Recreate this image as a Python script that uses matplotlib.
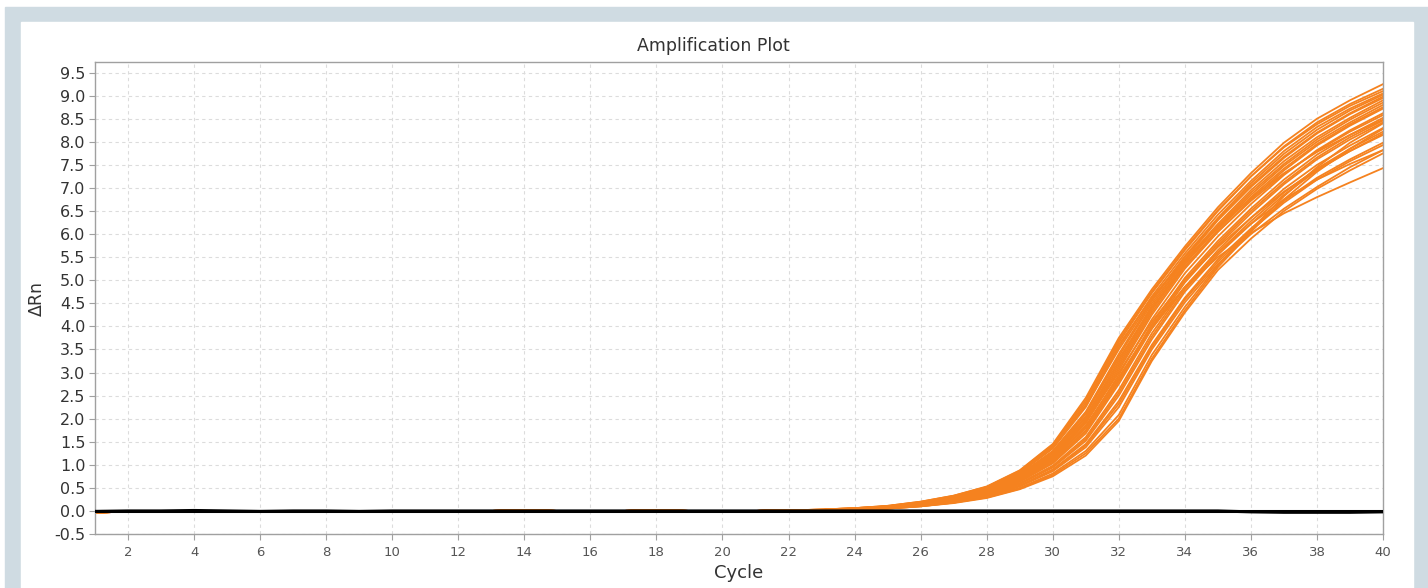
import matplotlib
matplotlib.use("Agg")
import matplotlib.pyplot as plt
from matplotlib.patches import Rectangle
import numpy as np

# ciclos y datos
cycles = list(range(1, 41))

# linea base comun de las curvas naranjas (ciclos 1-22)
base_orange = [-0.03, -0.02, -0.01, 0.0, -0.01, 0.0, 0.0, -0.01, 0.0, 0.0, 0.0,
               0.0, 0.0, 0.01, 0.0, 0.0, 0.0, 0.01, 0.0, 0.0, 0.0, 0.01]

# parte creciente de cada curva (ciclos 23-40)
tails = [
    [0.03, 0.06, 0.11, 0.20, 0.33, 0.53, 0.88, 1.45, 2.45, 3.75, 4.80, 5.73, 6.58, 7.32, 7.98, 8.50, 8.90, 9.25],
    [0.03, 0.06, 0.10, 0.19, 0.32, 0.51, 0.85, 1.40, 2.35, 3.65, 4.72, 5.65, 6.50, 7.25, 7.90, 8.42, 8.82, 9.15],
    [0.02, 0.05, 0.10, 0.18, 0.30, 0.49, 0.82, 1.35, 2.25, 3.55, 4.65, 5.58, 6.42, 7.15, 7.80, 8.32, 8.72, 9.05],
    [0.02, 0.05, 0.09, 0.17, 0.29, 0.47, 0.79, 1.30, 2.15, 3.40, 4.55, 5.50, 6.32, 7.05, 7.68, 8.20, 8.62, 8.98],
    [0.02, 0.05, 0.09, 0.16, 0.28, 0.45, 0.76, 1.25, 2.05, 3.25, 4.45, 5.42, 6.22, 6.95, 7.58, 8.10, 8.52, 8.90],
    [0.02, 0.04, 0.08, 0.16, 0.27, 0.44, 0.74, 1.20, 1.98, 3.15, 4.35, 5.35, 6.15, 6.85, 7.48, 8.00, 8.42, 8.80],
    [0.02, 0.04, 0.08, 0.15, 0.26, 0.42, 0.71, 1.15, 1.90, 3.05, 4.25, 5.25, 6.05, 6.75, 7.38, 7.92, 8.35, 8.72],
    [0.02, 0.04, 0.08, 0.15, 0.25, 0.41, 0.69, 1.12, 1.82, 2.95, 4.15, 5.15, 5.95, 6.65, 7.28, 7.82, 8.25, 8.62],
    [0.01, 0.04, 0.07, 0.14, 0.24, 0.39, 0.66, 1.08, 1.75, 2.85, 4.05, 5.05, 5.85, 6.55, 7.18, 7.72, 8.15, 8.52],
    [0.01, 0.04, 0.07, 0.13, 0.23, 0.37, 0.63, 1.03, 1.68, 2.75, 3.95, 4.95, 5.75, 6.45, 7.08, 7.62, 8.05, 8.42],
    [0.01, 0.03, 0.07, 0.13, 0.22, 0.36, 0.60, 0.98, 1.60, 2.62, 3.85, 4.85, 5.65, 6.35, 6.98, 7.50, 7.92, 8.30],
    [0.01, 0.03, 0.06, 0.12, 0.21, 0.34, 0.58, 0.94, 1.52, 2.50, 3.72, 4.75, 5.55, 6.22, 6.85, 7.38, 7.80, 8.18],
    [0.01, 0.03, 0.06, 0.11, 0.20, 0.33, 0.55, 0.90, 1.45, 2.38, 3.60, 4.62, 5.45, 6.12, 6.72, 7.22, 7.62, 7.98],
    [0.01, 0.03, 0.06, 0.11, 0.19, 0.31, 0.53, 0.86, 1.38, 2.25, 3.50, 4.52, 5.35, 6.00, 6.55, 7.02, 7.45, 7.82],
    [0.02, 0.04, 0.08, 0.15, 0.26, 0.42, 0.70, 1.12, 1.85, 2.90, 4.00, 4.85, 5.50, 6.02, 6.45, 6.80, 7.12, 7.43],
    [0.02, 0.04, 0.08, 0.15, 0.25, 0.41, 0.68, 1.10, 1.80, 2.85, 3.95, 4.85, 5.60, 6.22, 6.75, 7.18, 7.52, 7.82],
    [0.01, 0.03, 0.05, 0.10, 0.18, 0.29, 0.48, 0.78, 1.25, 2.00, 3.30, 4.35, 5.28, 6.05, 6.75, 7.35, 7.85, 8.28],
    [0.01, 0.03, 0.05, 0.10, 0.17, 0.28, 0.47, 0.75, 1.20, 1.95, 3.25, 4.30, 5.22, 5.90, 6.50, 6.98, 7.38, 7.75],
    [0.03, 0.06, 0.10, 0.19, 0.31, 0.50, 0.84, 1.38, 2.30, 3.60, 4.62, 5.45, 6.15, 6.78, 7.32, 7.78, 8.15, 8.48],
    [0.02, 0.05, 0.09, 0.17, 0.28, 0.46, 0.77, 1.27, 2.10, 3.35, 4.50, 5.45, 6.30, 7.02, 7.65, 8.18, 8.60, 8.95],
    [0.02, 0.05, 0.10, 0.18, 0.31, 0.50, 0.83, 1.37, 2.28, 3.50, 4.58, 5.52, 6.35, 7.10, 7.74, 8.26, 8.68, 9.02],
    [0.02, 0.05, 0.09, 0.17, 0.29, 0.47, 0.78, 1.28, 2.12, 3.30, 4.40, 5.30, 6.05, 6.72, 7.30, 7.80, 8.22, 8.58],
    [0.02, 0.04, 0.08, 0.16, 0.27, 0.43, 0.72, 1.18, 1.94, 3.10, 4.30, 5.30, 6.10, 6.80, 7.42, 7.95, 8.38, 8.75],
    [0.01, 0.04, 0.07, 0.14, 0.24, 0.38, 0.64, 1.05, 1.72, 2.80, 4.00, 5.00, 5.80, 6.50, 7.12, 7.66, 8.10, 8.46],
    [0.01, 0.03, 0.06, 0.12, 0.21, 0.35, 0.59, 0.96, 1.56, 2.56, 3.78, 4.80, 5.60, 6.28, 6.90, 7.42, 7.85, 8.22],
    [0.01, 0.03, 0.06, 0.12, 0.20, 0.32, 0.54, 0.88, 1.42, 2.32, 3.55, 4.58, 5.40, 6.08, 6.68, 7.18, 7.58, 7.93],
    [0.01, 0.03, 0.05, 0.10, 0.18, 0.30, 0.50, 0.81, 1.30, 2.08, 3.38, 4.42, 5.32, 6.10, 6.82, 7.45, 7.98, 8.40],
    [0.03, 0.06, 0.11, 0.20, 0.33, 0.52, 0.87, 1.43, 2.40, 3.70, 4.75, 5.68, 6.52, 7.25, 7.88, 8.38, 8.78, 9.10],
    [0.02, 0.05, 0.09, 0.16, 0.28, 0.45, 0.75, 1.23, 2.02, 3.20, 4.40, 5.38, 6.18, 6.90, 7.52, 8.05, 8.48, 8.85],
    [0.02, 0.04, 0.08, 0.15, 0.26, 0.43, 0.72, 1.17, 1.92, 3.00, 4.10, 5.00, 5.72, 6.35, 6.92, 7.40, 7.80, 8.15],
]

# controles negativos (lineas negras)
black_a = [0.0, 0.0, 0.0, 0.0, 0.0, 0.0, 0.0, 0.0, 0.0, 0.0, 0.0, 0.0, 0.0, 0.0,
           0.0, 0.0, 0.0, 0.0, 0.0, 0.0, 0.0, 0.0, 0.0, 0.0, 0.0, 0.0, 0.0, 0.0,
           0.0, 0.0, 0.0, 0.0, 0.0, 0.0, 0.0, 0.0, 0.0, 0.0, 0.0, 0.0]
black_b = [-0.01, 0.0, 0.0, 0.01, 0.0, -0.01, 0.0, 0.0, -0.01, 0.0, 0.0, 0.0,
           0.0, 0.0, 0.0, 0.0, 0.0, 0.0, 0.0, 0.0, 0.0, 0.0, 0.0, 0.0, 0.0, 0.0,
           0.0, 0.0, 0.0, 0.0, 0.0, 0.0, 0.0, 0.0, 0.0, -0.02, -0.03, -0.03,
           -0.03, -0.02]

yticks = [-0.5, 0.0, 0.5, 1.0, 1.5, 2.0, 2.5, 3.0, 3.5, 4.0, 4.5, 5.0, 5.5,
          6.0, 6.5, 7.0, 7.5, 8.0, 8.5, 9.0, 9.5]
xticks = list(range(2, 41, 2))

plt.rcParams['font.family'] = ['DejaVu Sans']

fig = plt.figure(figsize=(14.28, 5.88), dpi=100, facecolor="white")
# marco gris azulado y panel blanco
fig.patches.append(Rectangle((5 / 1428, 0), 1 - 5 / 1428, 1 - 7 / 588,
                             transform=fig.transFigure, color="#cfdbe2", zorder=-10))
fig.patches.append(Rectangle((21 / 1428, 0), (1413 - 21) / 1428, 1 - 22 / 588,
                             transform=fig.transFigure, color="white", zorder=-9))

ax = fig.add_axes([95 / 1428, (588 - 534) / 588, (1383 - 95) / 1428, (534 - 62) / 588])
ax.set_zorder(1)

for t in tails:
    ax.plot(cycles, base_orange + t, color="#f5821f", linewidth=1.3, zorder=2)

ax.plot(cycles, black_b, color="black", linewidth=2.2, zorder=3)
ax.plot(cycles, black_a, color="black", linewidth=2.2, zorder=3)

ax.set_xlim(1, 40)
ax.set_ylim(-0.5, 9.73)
ax.set_xticks(xticks)
ax.set_yticks(yticks)
ax.set_yticklabels([f"{v:.1f}" for v in yticks])

ax.grid(True, color="#dcdcdc", linestyle=(0, (3, 3)), linewidth=0.8)
ax.set_axisbelow(True)

for s in ax.spines.values():
    s.set_color("#a0a0a0")
    s.set_linewidth(1.0)

ax.tick_params(axis="y", labelsize=11.5, colors="#a0a0a0", labelcolor="#333333", length=4, pad=3)
ax.tick_params(axis="x", labelsize=9.5, colors="#a0a0a0", labelcolor="#555555", length=4, pad=5)

# titulo centrado sobre el panel blanco
fig.text(713 / 1428, 1 - 46 / 588, "Amplification Plot", fontsize=12.5,
         color="#333333", ha="center", va="center")
ax.set_xlabel("Cycle", fontsize=13, color="#333333", labelpad=3)
ax.set_ylabel("ΔRn", fontsize=12.5, color="#333333", labelpad=6)

fig.savefig("out.png", dpi=100, facecolor=fig.get_facecolor())
